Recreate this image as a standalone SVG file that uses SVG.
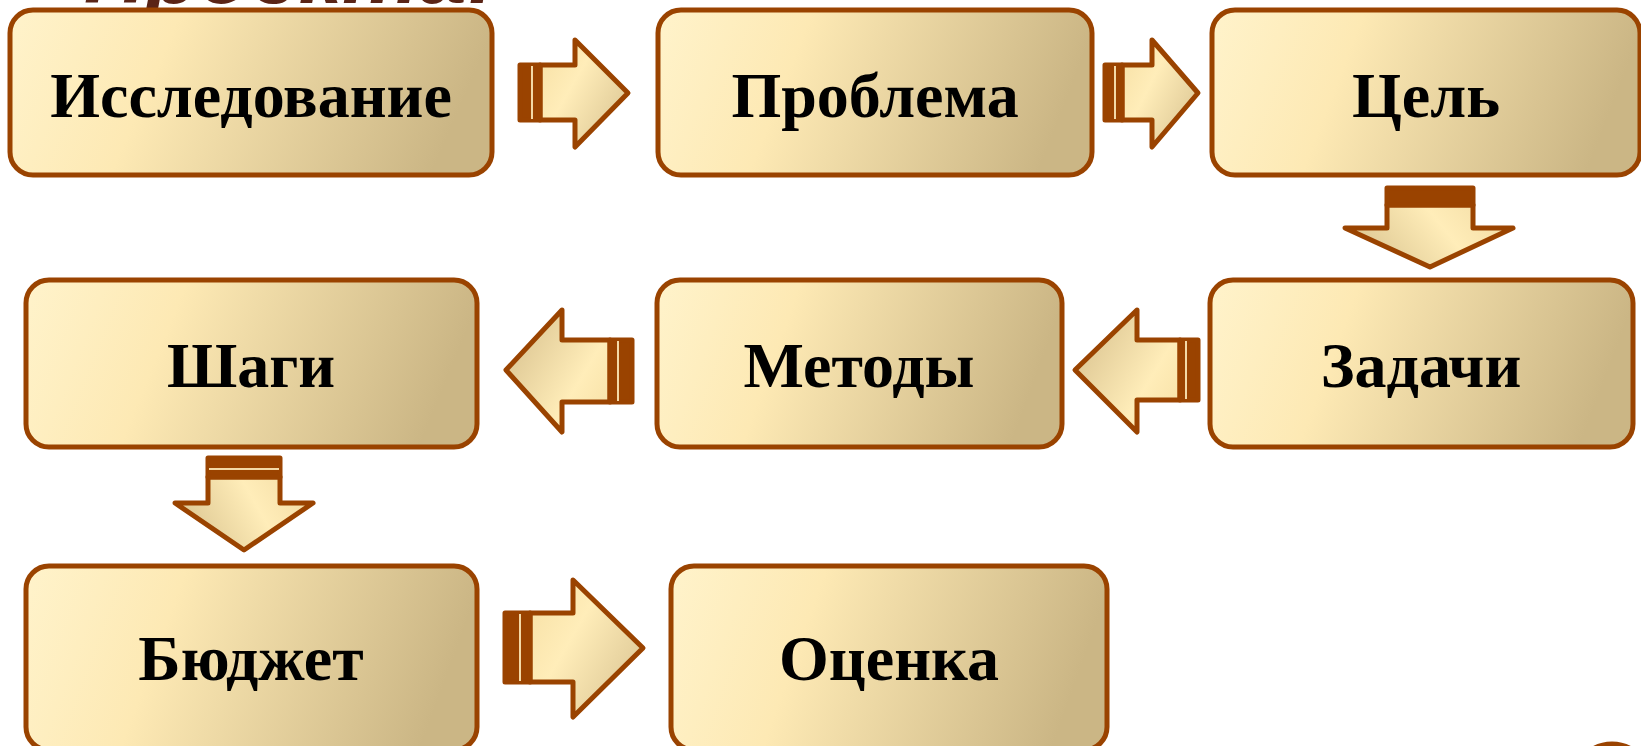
<svg xmlns="http://www.w3.org/2000/svg" width="1641" height="746" viewBox="0 0 1641 746">
<defs>
<linearGradient id="gBox" x1="0" y1="0" x2="1" y2="0.15">
<stop offset="0" stop-color="#FFF3CB"/>
<stop offset="0.35" stop-color="#FDE9B4"/>
<stop offset="1" stop-color="#CBB685"/>
</linearGradient>
<linearGradient id="gRight" x1="0" y1="0.2" x2="1" y2="0.9">
<stop offset="0" stop-color="#F8E2A8"/>
<stop offset="0.35" stop-color="#FFEDB9"/>
<stop offset="1" stop-color="#D8C290"/>
</linearGradient>
<linearGradient id="gLeft" x1="1" y1="0.8" x2="0" y2="0.1">
<stop offset="0" stop-color="#F8E2A8"/>
<stop offset="0.3" stop-color="#FFEDB9"/>
<stop offset="1" stop-color="#D6BF8C"/>
</linearGradient>
<linearGradient id="gDown" x1="0" y1="0.6" x2="1" y2="0.3">
<stop offset="0" stop-color="#DAC48F"/>
<stop offset="0.6" stop-color="#FFEDB9"/>
<stop offset="1" stop-color="#F3DCA4"/>
</linearGradient>
<style>
.box{stroke:#9A4300;stroke-width:5;fill:url(#gBox)}
.lbl{font-family:"Liberation Serif","Times New Roman",serif;font-weight:bold;font-size:64px;fill:#000;text-anchor:middle}
.arr{stroke:#9A4300;stroke-width:5;stroke-linejoin:round}
.band{fill:#9A4300;stroke:#9A4300;stroke-width:5;stroke-linejoin:round}
.line{stroke:#F4D9A6;stroke-width:2}
</style>
</defs>
<rect width="1641" height="746" fill="#FFFFFF"/>
<text x="84" y="3" font-family="'Liberation Sans',Arial,sans-serif" font-style="italic" font-weight="bold" font-size="86" fill="#5A2416">Проекта:</text>

<g id="connectors">
<g id="a1">
<polygon class="arr" fill="url(#gRight)" points="540,65 575,65 575,40 628,93 575,147 575,120 540,120"/>
<rect class="band" x="520" y="65" width="20" height="55"/>
<line class="line" x1="532" y1="66" x2="532" y2="119"/>
</g>
<g id="a2">
<polygon class="arr" fill="url(#gRight)" points="1122,65 1152,65 1152,40 1198,93 1152,147 1152,120 1122,120"/>
<rect class="band" x="1105" y="65" width="17" height="55"/>
<line class="line" x1="1115" y1="66" x2="1115" y2="119"/>
</g>
<g id="a3">
<polygon class="arr" fill="url(#gDown)" points="1387,205 1387,228 1345,228 1430,267 1513,228 1473,228 1473,205"/>
<rect class="band" x="1387" y="188" width="86" height="17"/>
</g>
<g id="a4">
<polygon class="arr" fill="url(#gLeft)" points="1180,340 1137,340 1137,310 1075,370 1137,432 1137,400 1180,400"/>
<rect class="band" x="1180" y="340" width="18" height="60"/>
<line class="line" x1="1186" y1="341" x2="1186" y2="399"/>
</g>
<g id="a5">
<polygon class="arr" fill="url(#gLeft)" points="610,340 562,340 562,310 506,370 562,432 562,402 610,402"/>
<rect class="band" x="610" y="340" width="22" height="62"/>
<line class="line" x1="618" y1="341" x2="618" y2="401"/>
</g>
<g id="a6">
<polygon class="arr" fill="url(#gDown)" points="208,477 208,503 175,503 244,550 313,503 280,503 280,477"/>
<rect class="band" x="208" y="458" width="72" height="19"/>
<line class="line" x1="209" y1="469" x2="279" y2="469"/>
</g>
<g id="a7">
<polygon class="arr" fill="url(#gRight)" points="530,613 573,613 573,580 643,648 573,717 573,682 530,682"/>
<rect class="band" x="505" y="613" width="25" height="69"/>
<line class="line" x1="520" y1="614" x2="520" y2="681"/>
</g>
</g>

<g id="n1"><rect class="box" x="10" y="10" width="482" height="165" rx="23"/><text class="lbl" x="251" y="117">Исследование</text></g>
<g id="n2"><rect class="box" x="658" y="10" width="434" height="165" rx="23"/><text class="lbl" x="875" y="117">Проблема</text></g>
<g id="n3"><rect class="box" x="1212" y="10" width="428" height="165" rx="23"/><text class="lbl" x="1426" y="117">Цель</text></g>
<g id="n4"><rect class="box" x="26" y="280" width="451" height="167" rx="23"/><text class="lbl" x="251" y="387">Шаги</text></g>
<g id="n5"><rect class="box" x="657" y="280" width="405" height="167" rx="23"/><text class="lbl" x="859" y="387">Методы</text></g>
<g id="n6"><rect class="box" x="1210" y="280" width="423" height="167" rx="23"/><text class="lbl" x="1421" y="387">Задачи</text></g>
<g id="n7"><rect class="box" x="26" y="566" width="451" height="184" rx="23"/><text class="lbl" x="251" y="680">Бюджет</text></g>
<g id="n8"><rect class="box" x="671" y="566" width="436" height="184" rx="23"/><text class="lbl" x="889" y="680">Оценка</text></g>

<circle cx="1612" cy="782" r="38" fill="none" stroke="#9A4300" stroke-width="5"/>
</svg>
